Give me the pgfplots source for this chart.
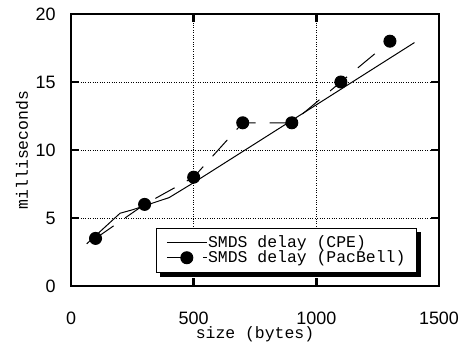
\documentclass[border=0pt]{standalone}
\usepackage{fontspec}
\setmainfont{Liberation Sans}
\newfontfamily\mono{Liberation Mono}
\usepackage{pgfplots}
\pgfplotsset{compat=1.18}

\begin{document}
\begin{tikzpicture}
\begin{axis}[
  scale only axis, width=368bp, height=272bp,
  at={(0,0)}, anchor=south west,
  xmin=0, xmax=1500, ymin=0, ymax=20,
  xtick={0,500,1000,1500}, ytick={0,5,10,15,20},
  grid=major, grid style={dotted, line width=0.8pt, black},
  axis line style={line width=1.8pt},
  tick align=inside, major tick length=8bp,
  major tick style={line width=2.4pt, black},
  tick label style={font=\fontsize{18}{18}\selectfont},
  /pgf/number format/assume math mode=true,
  /pgf/number format/set thousands separator={},
  xticklabel style={yshift=-22bp},
  yticklabel style={xshift=-12bp},
  xlabel={size (bytes)}, ylabel={milliseconds},
  label style={font=\mono\fontsize{16.5}{16.5}\selectfont},
  xlabel style={at={(axis description cs:0.5,-0.176)}, anchor=center},
  ylabel style={at={(axis description cs:-0.133,0.5)}, anchor=center},
  legend cell align=left,
  legend style={name=leg, at={(axis description cs:0.94,0.048)}, anchor=south east,
    draw=black, line width=1.4pt, fill=white,
    font=\mono\fontsize{16.5}{16.5}\selectfont,
    inner xsep=10bp, inner ysep=7bp, row sep=0pt,
    nodes={inner sep=0.8bp}},
  legend image code/.code={\draw[mark repeat=2, mark phase=2, #1] plot coordinates {(0bp,0bp) (20bp,0bp) (40bp,0bp)};},
]
\addplot[black, line width=1pt] coordinates {
  (64,3.1) (200,5.35) (250,5.6) (400,6.5) (500,7.6) (1400,17.9)
};
\addlegendentry{SMDS delay (CPE)}
\addplot[black, line width=1pt, dash pattern=on 22bp off 14bp, mark=*, mark size=6bp, mark options={solid, fill=black}] coordinates {
  (100,3.5) (300,6) (500,8) (700,12) (900,12) (1100,15) (1300,18)
};
\addlegendentry{SMDS delay (PacBell)}
\end{axis}
\fill[black] ([xshift=4bp,yshift=-4.5bp]leg.south west) rectangle ([xshift=4.5bp]leg.south east);
\fill[black] ([yshift=-4bp]leg.north east) rectangle ([xshift=4.5bp,yshift=-4.5bp]leg.south east);
\pgfresetboundingbox
\path (-71bp,-57bp) rectangle (390bp,286bp);
\end{tikzpicture}
\end{document}
